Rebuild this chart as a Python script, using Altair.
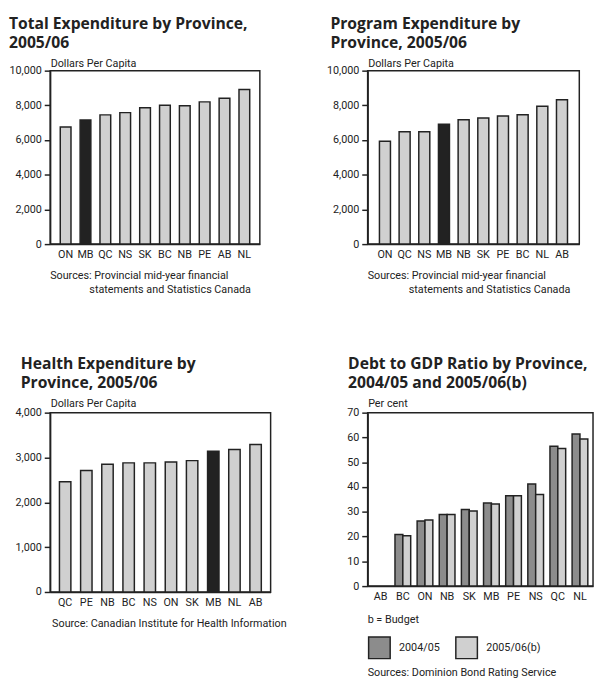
import altair as alt
import pandas as pd

# ---------------- data ----------------
total_prov = ["ON", "MB", "QC", "NS", "SK", "BC", "NB", "PE", "AB", "NL"]
total_vals = [6750, 7150, 7450, 7580, 7860, 8000, 7980, 8200, 8410, 8920]

program_prov = ["ON", "QC", "NS", "MB", "NB", "SK", "PE", "BC", "NL", "AB"]
program_vals = [5930, 6480, 6480, 6910, 7170, 7270, 7380, 7460, 7950, 8320]

health_prov = ["QC", "PE", "NB", "BC", "NS", "ON", "SK", "MB", "NL", "AB"]
health_vals = [2460, 2710, 2850, 2880, 2880, 2900, 2930, 3140, 3180, 3290]

debt_prov = ["AB", "BC", "ON", "NB", "SK", "MB", "PE", "NS", "QC", "NL"]
debt_0405 = [0.0, 20.8, 26.3, 28.9, 30.9, 33.5, 36.5, 41.2, 56.4, 61.4]
debt_0506 = [0.0, 20.3, 26.7, 28.9, 30.3, 33.1, 36.5, 37.0, 55.5, 59.4]
debt_years = ["2004/05", "2005/06(b)"]

ticks_10000 = [0, 2000, 4000, 6000, 8000, 10000]
ticks_4000 = [0, 1000, 2000, 3000, 4000]
ticks_70 = [0, 10, 20, 30, 40, 50, 60, 70]

# ---------------- style ----------------
FONT = "Roboto"
TFONT = "Open Sans"
FS = 11
INK = "#222222"
LIGHT = "#d0d0d0"
DARK = "#8c8c8c"


def note(lines, h):
    """lines: list of (text, dx, dy)"""
    out = []
    for txt, dx, dy in lines:
        out.append(
            alt.Chart(pd.DataFrame({"t": [txt]}))
            .mark_text(align="left", baseline="alphabetic", font=FONT, fontSize=FS, color=INK)
            .encode(x=alt.value(dx), y=alt.value(h + dy), text="t:N")
        )
    return out


def x_axis():
    return alt.Axis(title=None, labelAngle=0, ticks=False, labelPadding=5,
                    labelFont=FONT, labelFontSize=FS, labelColor=INK,
                    domainColor=INK, domainWidth=1.5)


def y_axis(title, values, fmt, ty):
    return alt.Axis(values=values, format=fmt, title=title, titleAngle=0, titleX=0, titleY=ty,
                    titleAlign="left", titleBaseline="alphabetic", titleFont=FONT,
                    titleFontSize=FS, titleFontWeight="normal", titleColor=INK,
                    labelFont=FONT, labelFontSize=FS, labelColor=INK, labelPadding=3,
                    tickSize=6, tickColor=INK, tickWidth=1.5, domainColor=INK, domainWidth=1.5,
                    grid=False)


def title(lines, dx, offset):
    return alt.TitleParams(text=lines, anchor="start", frame="group", dx=dx, offset=offset,
                           font=TFONT, fontSize=16, fontWeight="bold", color=INK, lineHeight=20)


def single_panel(prov, vals, ttl, tdx, ytitle, yticks, w, h, pi, po, src, ty=-5):
    df = pd.DataFrame({"prov": prov, "val": vals})
    bars = alt.Chart(df).mark_bar(stroke=INK, strokeWidth=1.5).encode(
        x=alt.X("prov:N", sort=None, scale=alt.Scale(paddingInner=pi, paddingOuter=po), axis=x_axis()),
        y=alt.Y("val:Q", scale=alt.Scale(domain=[yticks[0], yticks[-1]], nice=False),
                axis=y_axis(ytitle, yticks, ",d", ty)),
        color=alt.condition(alt.datum.prov == "MB", alt.value(INK), alt.value(LIGHT)),
    )
    return alt.layer(bars, *note(src, h)).properties(width=w, height=h, title=title(ttl, tdx, 7))


p1 = single_panel(total_prov, total_vals, ["Total Expenditure by Province,", "2005/06"], -42,
                  "Dollars Per Capita", ticks_10000, 214, 177, 0.46, 0.51,
                  [("Sources: Provincial mid-year financial", 0, 36),
                   ("statements and Statistics Canada", 40, 50)], ty=-4)

p2 = single_panel(program_prov, program_vals, ["Program Expenditure by", "Province, 2005/06"], -38,
                  "Dollars Per Capita", ticks_10000, 216, 177, 0.44, 0.6,
                  [("Sources: Provincial mid-year financial", 0, 36),
                   ("statements and Statistics Canada", 42, 50)], ty=-4)

p3 = single_panel(health_prov, health_vals, ["Health Expenditure by", "Province, 2005/06"], -30,
                  "Dollars Per Capita", ticks_4000, 225, 183, 0.46, 0.44,
                  [("Source: Canadian Institute for Health Information", 2, 36)], ty=-6)

debt_df = pd.DataFrame({
    "prov": debt_prov * 2,
    "year": [debt_years[0]] * len(debt_prov) + [debt_years[1]] * len(debt_prov),
    "val": debt_0405 + debt_0506,
})

H4 = 177
debt_bars = alt.Chart(debt_df).transform_filter(alt.datum.val > 0).mark_bar(stroke=INK, strokeWidth=1.5).encode(
    x=alt.X("prov:N", sort=debt_prov, scale=alt.Scale(domain=debt_prov, paddingInner=0.29, paddingOuter=0.235),
            axis=x_axis()),
    xOffset=alt.XOffset("year:N", sort=debt_years, scale=alt.Scale(paddingInner=0, paddingOuter=0)),
    y=alt.Y("val:Q", scale=alt.Scale(domain=[0, 70], nice=False), axis=y_axis("Per cent", ticks_70, "d", -6)),
    color=alt.Color("year:N", sort=debt_years,
                    scale=alt.Scale(domain=debt_years, range=[DARK, LIGHT]),
                    legend=alt.Legend(orient="none", legendX=0, legendY=H4 + 29, direction="horizontal",
                                      title="b = Budget", titleFont=FONT, titleFontSize=FS,
                                      titleFontWeight="normal", titleColor=INK, titlePadding=11,
                                      symbolType="square", symbolSize=484, symbolStrokeColor=INK,
                                      symbolStrokeWidth=1.5, symbolOpacity=1,
                                      labelFont=FONT, labelFontSize=FS, labelColor=INK,
                                      labelOffset=8, columnPadding=13)),
)
p4 = alt.layer(debt_bars, *note([("Sources: Dominion Bond Rating Service", 0, 92)], H4)).properties(
    width=230, height=H4, title=title(["Debt to GDP Ratio by Province,", "2004/05 and 2005/06(b)"], -20, 7))

chart = alt.concat(p1, p2, p3, p4, columns=2, spacing={"row": 172, "column": 99}, bounds="flush").properties(
    padding=0
).resolve_scale(color="independent").resolve_legend(color="independent").configure_view(
    stroke=INK, strokeWidth=1.5)

chart.save("out.html", embed_options={"renderer": "svg", "actions": False})
